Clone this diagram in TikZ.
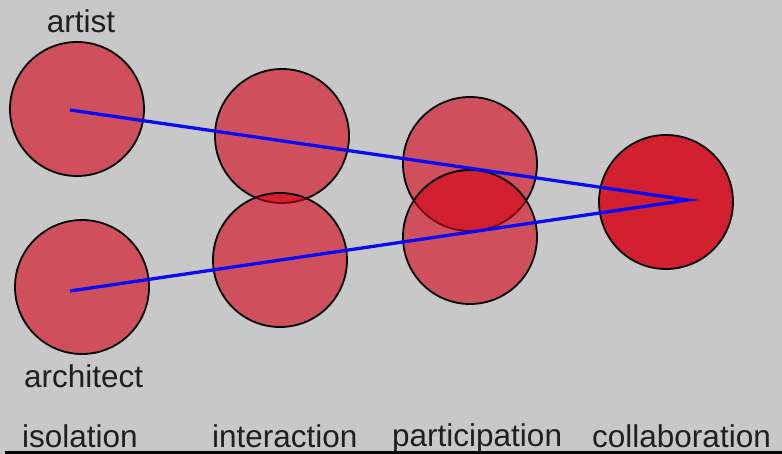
\documentclass[tikz,border=0pt]{standalone}
\usepackage{fontspec}
\setmainfont{Liberation Sans}
\definecolor{bggray}{RGB}{200,200,200}
\definecolor{cred}{RGB}{212,0,20}
\definecolor{credsolid}{RGB}{210,32,48}
\definecolor{lblue}{RGB}{10,10,245}
\begin{document}
\begin{tikzpicture}[x=1pt,y=-1pt,
  disc/.style={circle,draw=black,line width=1.8pt,fill=cred,fill opacity=0.6,draw opacity=1,minimum size=134pt,inner sep=0pt},
  solid disc/.style={circle,draw=black,line width=1.8pt,fill=credsolid,minimum size=134pt,inner sep=0pt},
  lab/.style={anchor=base west,inner sep=0pt,font=\fontsize{31.5}{36}\selectfont,text=black!88},
  link/.style={draw=lblue,line width=3.3pt}]
\fill[bggray] (0,0) rectangle (782,454);
\useasboundingbox (0,0) rectangle (782,454);
\node[disc] (artist) at (77,109) {};
\node[disc] (architect) at (82,287) {};
\node[disc] (int1) at (282,136) {};
\node[disc] (int2) at (280,260) {};
\node[disc] (par1) at (470,164) {};
\node[disc] (par2) at (470,237) {};
\node[solid disc] (col) at (666,202) {};
\coordinate (pa) at (70,110);
\coordinate (pb) at (70,291);
\coordinate (pc) at (688,200);
\draw[link] (pa) -- (pc) -- (pb);
\node[lab,anchor=base] (tartist) at (81,33) {artist};
\node[lab] (tarch) at (24,387) {architect};
\node[lab] (tiso) at (22,447) {isolation};
\node[lab] (tint) at (212,447) {interaction};
\node[lab] (tpar) at (392,446) {participation};
\node[lab] (tcol) at (592,447) {collaboration};
\coordinate (b1) at (5,452);
\coordinate (b2) at (782,452);
\draw[black,line width=3pt] (b1) -- (b2);
\end{tikzpicture}
\end{document}
